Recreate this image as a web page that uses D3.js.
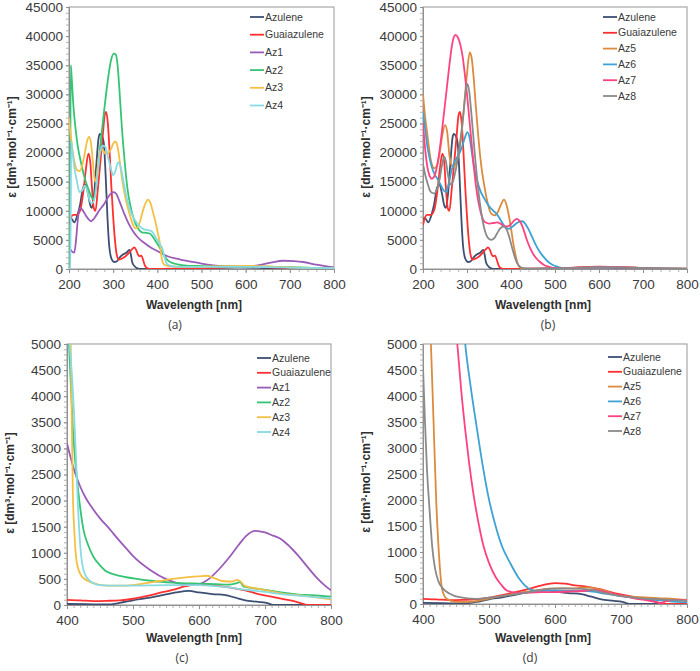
<!DOCTYPE html>
<html><head><meta charset="utf-8">
<script src="https://cdn.jsdelivr.net/npm/d3@7"></script>
<style>body{margin:0;background:#fff}</style>
</head><body>
<svg id="chart" width="700" height="671"></svg>
<script>
// ---------- DATA: UV-Vis 200-800 nm (panels a, b) ----------
const azuleneUV = [[200,8600],[205,8700],[212,8000],[218,9000],[225,11000],[232,14000],[237,14500],[243,13000],[248,11000],[252,10500],[257,13000],[262,18000],[267,22500],[270,23200],[275,22800],[279,21500],[283,16000],[287,9000],[291,4000],[296,1800],[302,1200],[308,1300],[315,2000],[322,2500],[330,2800],[337,3300],[340,2500],[343,1200],[348,500],[355,100],[362,0],[450,10],[585,270],[650,150],[712,0],[800,0]];
const guaiUV = [[200,7500],[204,8800],[210,9300],[218,9300],[225,10000],[232,13000],[238,17000],[244,19800],[248,18500],[252,14000],[256,10500],[260,10000],[265,13500],[270,17500],[276,22500],[281,26500],[284,27000],[288,25000],[292,20000],[296,14000],[300,9000],[304,5000],[308,2500],[313,1600],[320,1800],[328,2200],[336,2800],[343,3400],[348,3700],[352,3300],[356,2500],[360,2200],[364,2300],[368,1500],[372,600],[378,100],[385,0],[450,80],[520,180],[600,400],[680,220],[765,0],[800,0]];
const az1UV = [[200,3500],[204,3300],[208,2900],[212,2800],[216,5000],[220,8500],[225,10500],[230,10200],[238,9200],[245,8500],[250,8200],[258,8800],[268,10000],[280,11200],[290,12500],[300,13200],[306,13000],[315,11500],[325,9500],[335,7800],[345,6500],[355,5500],[370,4500],[385,3700],[400,3100],[420,2270],[450,1660],[476,1280],[500,930],[550,490],[600,400],[630,650],[660,1150],[685,1420],[710,1350],[730,1200],[760,750],[800,280]];
const az2UV = [[200,0],[202,0],[204,35000],[206,33000],[210,28000],[215,24000],[220,21000],[228,18000],[236,15500],[245,13500],[252,12200],[256,11900],[260,13500],[265,17000],[272,22000],[280,27500],[288,32500],[295,35800],[301,37000],[306,36800],[310,35000],[314,31000],[320,24000],[326,18500],[332,14000],[340,10500],[348,8300],[356,7000],[365,6300],[375,6200],[383,6100],[390,5500],[396,4800],[403,4000],[410,3000],[418,2000],[425,1400],[440,900],[460,640],[500,500],[550,430],[600,410],[650,390],[700,300],[750,200],[800,160]];
const az3UV = [[200,26000],[203,23500],[207,21000],[212,18500],[218,17000],[224,16800],[230,17800],[236,20000],[241,22000],[246,22700],[250,21500],[254,18500],[258,15500],[261,15000],[265,17500],[270,20300],[276,20500],[282,19800],[288,19900],[295,20600],[300,21500],[305,21900],[310,21000],[315,18500],[320,15500],[327,12500],[335,10000],[343,8000],[350,7000],[356,7200],[362,8500],[368,10200],[374,11400],[379,11900],[384,11400],[390,9800],[396,8000],[401,6200],[405,4800],[408,3000],[410,1800],[412,1250],[415,800],[423,540],[440,420],[460,370],[500,380],[540,460],[600,550],[615,550],[630,470],[650,450],[665,380],[700,290],[750,200],[800,110]];
const az4UV = [[200,0],[203,0],[205,22000],[208,20000],[212,17500],[218,15000],[224,13200],[230,13500],[236,14300],[241,13500],[246,12000],[250,11300],[255,11500],[260,13000],[265,16500],[270,19800],[276,21200],[282,21000],[288,19300],[294,17500],[300,16100],[305,16800],[311,18300],[316,17800],[322,15500],[330,12500],[338,10200],[346,8800],[355,7800],[365,7000],[375,6700],[385,6600],[392,6000],[398,5200],[404,4500],[408,4000],[411,3600],[414,2700],[416,2100],[420,1150],[425,670],[433,480],[450,380],[500,370],[550,380],[600,380],[650,320],[700,250],[750,180],[800,130]];
const az5UV = [[200,30000],[205,26000],[210,23000],[215,20000],[220,18000],[226,17300],[232,17800],[238,20000],[244,23000],[250,24700],[255,23500],[260,19500],[265,17800],[270,17500],[276,18500],[282,20000],[288,23500],[294,28500],[300,33500],[306,37200],[310,36500],[315,33000],[320,28000],[326,22500],[332,18000],[340,14000],[348,11000],[355,9500],[363,9200],[370,9800],[377,11000],[384,11900],[389,11200],[395,9200],[400,7000],[405,4500],[410,2500],[415,1000],[420,300],[428,50],[440,0],[500,100],[600,280],[650,300],[700,150],[800,80]];
const az6UV = [[200,27000],[205,24000],[210,21000],[215,19000],[220,17500],[226,16300],[232,15600],[240,14500],[246,13600],[252,13200],[258,14500],[265,17000],[272,18500],[280,19500],[288,20800],[295,22500],[301,23500],[306,22500],[311,20000],[316,17500],[322,15500],[330,13500],[340,12000],[350,10800],[360,10000],[370,9200],[378,8200],[386,7300],[394,6900],[402,7200],[410,7700],[418,8100],[426,8200],[432,7800],[440,6800],[448,5500],[456,4200],[465,3000],[475,2000],[485,1200],[495,700],[505,400],[515,200],[530,80],[560,150],[600,260],[650,250],[700,150],[800,30]];
const az7UV = [[200,25000],[205,20500],[210,17500],[215,16000],[220,15500],[225,15800],[230,17000],[236,19500],[242,23000],[248,27000],[254,31000],[260,35000],[266,38500],[271,40000],[274,40200],[279,39800],[285,38500],[290,36500],[295,33500],[300,30000],[305,26000],[310,22000],[315,18000],[320,14500],[326,11500],[332,9500],[338,8300],[345,7900],[352,7800],[360,7900],[368,8000],[376,7800],[384,7400],[392,7300],[400,7700],[407,8300],[413,8600],[419,8300],[425,7500],[431,6200],[437,4800],[444,3500],[451,2500],[458,1800],[466,1200],[475,700],[485,400],[495,200],[510,100],[560,220],[600,300],[650,300],[700,160],[760,40],[800,80]];
const az8UV = [[200,18000],[205,16200],[210,14800],[215,13600],[220,13100],[226,13000],[232,13800],[238,15500],[243,17800],[248,19300],[252,18500],[256,16500],[260,15000],[264,14500],[268,15000],[273,16500],[278,18500],[283,21000],[288,24000],[293,27500],[297,30500],[301,31800],[305,30500],[309,27500],[313,24000],[318,19500],[323,15500],[329,11500],[335,8500],[341,6500],[348,5300],[355,5000],[362,5300],[369,6200],[376,7000],[383,7300],[390,6800],[396,5500],[402,3800],[408,2200],[414,1000],[420,400],[428,150],[440,100],[500,120],[600,300],[650,280],[700,150],[800,60]];

// ---------- DATA: Vis 400-800 nm (panels c, d) ----------
const azuleneVis = [[400,20],[430,15],[460,10],[480,40],[500,90],[520,130],[545,190],[565,240],[585,270],[600,240],[620,210],[640,190],[655,140],[670,90],[690,60],[705,30],[712,0],[800,0]];
const guaiVis = [[400,100],[420,90],[440,75],[460,80],[480,90],[500,120],[520,170],[540,230],[560,290],[580,360],[600,400],[615,390],[630,360],[650,330],[670,280],[690,210],[710,160],[730,110],[745,70],[758,20],[765,0],[800,0]];
const az1Vis = [[400,3100],[405,2850],[410,2620],[415,2430],[420,2270],[428,2060],[436,1900],[450,1660],[465,1450],[476,1280],[490,1080],[501,925],[526,670],[551,490],[570,410],[585,385],[600,400],[615,500],[630,680],[645,900],[660,1150],[672,1330],[685,1420],[700,1390],[712,1330],[722,1280],[735,1150],[750,950],[765,720],[780,500],[790,380],[800,280]];
const az2Vis = [[398,6000],[403,5000],[409,3350],[418,2075],[425,1440],[432,1150],[440,925],[450,760],[460,640],[480,560],[501,510],[530,460],[560,430],[600,410],[625,400],[645,390],[657,420],[662,440],[668,350],[690,310],[710,270],[730,230],[750,200],[770,190],[790,170],[800,160]];
const az3Vis = [[400,7000],[405,5500],[407.5,3350],[409,2075],[411,1440],[415,800],[423,540],[440,420],[460,370],[480,370],[500,380],[520,420],[540,460],[560,500],[580,530],[600,550],[612,560],[622,520],[635,460],[650,450],[658,480],[663,450],[670,360],[690,310],[710,260],[730,210],[750,190],[775,150],[800,110]];
const az4Vis = [[398,6000],[404,5000],[408,4300],[411,3600],[414,2700],[416,2075],[420,1150],[425,670],[433,480],[450,380],[480,370],[500,370],[550,380],[600,380],[625,360],[650,330],[665,300],[680,280],[700,250],[725,210],[750,180],[775,150],[800,130]];
const az5Vis = [[405,6500],[412,5000],[416,3500],[420,2000],[425,800],[429,280],[436,100],[450,40],[470,40],[490,80],[510,130],[540,200],[570,260],[600,300],[625,300],[650,320],[670,270],[700,160],[730,130],[760,110],[780,100],[800,80]];
const az6Vis = [[455,6500],[464,5000],[472,4200],[482,3350],[490,2700],[499,2070],[510,1500],[520,1100],[532,790],[545,500],[555,350],[563,275],[575,250],[600,260],[625,250],[650,250],[675,200],[700,150],[725,110],[750,80],[775,50],[800,30]];
const az7Vis = [[445,6000],[452,5000],[458,4100],[464,3350],[470,2700],[477,2070],[485,1500],[492,1100],[500,790],[510,520],[518,380],[527,260],[540,220],[560,220],[580,230],[600,230],[620,240],[640,250],[660,270],[680,220],[700,160],[720,110],[740,70],[752,40],[760,20],[770,60],[785,80],[800,70]];
const az8Vis = [[400,4560],[403,3500],[406,2600],[410,1800],[414,1100],[418,700],[423,450],[430,300],[440,200],[455,130],[480,100],[500,120],[530,170],[560,230],[590,290],[610,300],[640,290],[660,260],[680,200],[700,150],[730,110],[760,90],[800,60]];

// ---------- CATEGORIES / TICKS ----------
const seriesAC = ["Azulene","Guaiazulene","Az1","Az2","Az3","Az4"];
const seriesBD = ["Azulene","Guaiazulene","Az5","Az6","Az7","Az8"];
const uvTicksX = [200,300,400,500,600,700,800];
const visTicksX = [400,500,600,700,800];
const uvTicksY = [0,5000,10000,15000,20000,25000,30000,35000,40000,45000];
const visTicksY = [0,500,1000,1500,2000,2500,3000,3500,4000,4500,5000];
const panelLabels = ["(a)","(b)","(c)","(d)"];

const uvData = {Azulene:azuleneUV, Guaiazulene:guaiUV, Az1:az1UV, Az2:az2UV, Az3:az3UV, Az4:az4UV, Az5:az5UV, Az6:az6UV, Az7:az7UV, Az8:az8UV};
const visData = {Azulene:azuleneVis, Guaiazulene:guaiVis, Az1:az1Vis, Az2:az2Vis, Az3:az3Vis, Az4:az4Vis, Az5:az5Vis, Az6:az6Vis, Az7:az7Vis, Az8:az8Vis};

const colors = {Azulene:"#3d4f72", Guaiazulene:"#ff3030", Az1:"#9b5bb8", Az2:"#35c474", Az3:"#f3c043", Az4:"#88dbe2", Az5:"#dc8b3e", Az6:"#3ea2d5", Az7:"#ff4282", Az8:"#8a8a8a"};

const layout = [
  {L:69, R:334, T:7, B:269, data:uvData, names:seriesAC, xd:[200,800], yd:[0,45000], xt:uvTicksX, yt:uvTicksY, xm:20, ym:1000, leg:[250,17,17.7], lab:[175,329], xtitle:[194,309], ytitle:[12,147]},
  {L:423, R:687, T:7, B:269, data:uvData, names:seriesBD, xd:[200,800], yd:[0,45000], xt:uvTicksX, yt:uvTicksY, xm:20, ym:1000, leg:[603,17,15.8], lab:[548,329], xtitle:[543,309], ytitle:[366,147]},
  {L:67, R:331, T:344, B:605, data:visData, names:seriesAC, xd:[400,800], yd:[0,5000], xt:visTicksX, yt:visTicksY, xm:10, ym:100, leg:[257,358,14.8], lab:[182,662], xtitle:[194,642], ytitle:[10,483]},
  {L:423, R:687, T:344, B:604, data:visData, names:seriesBD, xd:[400,800], yd:[0,5000], xt:visTicksX, yt:visTicksY, xm:10, ym:100, leg:[608,357,14.8], lab:[530,662], xtitle:[543,642], ytitle:[366,482]}
];

const svg = d3.select("#chart");
const font = "'Liberation Sans', Arial, sans-serif";
const txt = "#3a3a3a";

layout.forEach((p, i) => {
  const x = d3.scaleLinear().domain(p.xd).range([p.L, p.R]);
  const y = d3.scaleLinear().domain(p.yd).range([p.B, p.T]);
  const g = svg.append("g");
  const clipId = "clip" + i;
  svg.append("clipPath").attr("id", clipId).append("rect")
    .attr("x", p.L).attr("y", p.T).attr("width", p.R - p.L).attr("height", p.B - p.T);

  // frame
  g.append("rect").attr("x", p.L).attr("y", p.T).attr("width", p.R - p.L).attr("height", p.B - p.T)
    .attr("fill", "none").attr("stroke", "#a8a8a8").attr("stroke-width", 1.2);

  // minor ticks
  const xMinor = d3.range(p.xd[0], p.xd[1] + 0.001, p.xm);
  const yMinor = d3.range(p.yd[0], p.yd[1] + 0.001, p.ym);
  const ax = g.append("g").attr("transform", `translate(0,${p.B})`)
    .call(d3.axisBottom(x).tickValues(xMinor).tickSize(3).tickFormat(""));
  ax.select(".domain").remove();
  ax.selectAll("line").attr("stroke", "#b0b0b0");
  const ay = g.append("g").attr("transform", `translate(${p.L},0)`)
    .call(d3.axisLeft(y).tickValues(yMinor).tickSize(3).tickFormat(""));
  ay.select(".domain").remove();
  ay.selectAll("line").attr("stroke", "#b0b0b0");

  // major axes
  const xAxis = g.append("g").attr("transform", `translate(0,${p.B})`)
    .call(d3.axisBottom(x).tickValues(p.xt).tickSize(4).tickPadding(6).tickFormat(d3.format("d")));
  xAxis.select(".domain").attr("stroke", "#909090");
  xAxis.selectAll("line").attr("stroke", "#909090");
  xAxis.selectAll("text").attr("font-family", font).attr("font-size", "13.5px").attr("fill", txt);

  const yAxis = g.append("g").attr("transform", `translate(${p.L},0)`)
    .call(d3.axisLeft(y).tickValues(p.yt).tickSize(3).tickPadding(3).tickFormat(d3.format("d")));
  yAxis.select(".domain").attr("stroke", "#909090");
  yAxis.selectAll("line").attr("stroke", "#909090");
  yAxis.selectAll("text").attr("font-family", font).attr("font-size", "13.5px").attr("fill", txt);

  // curves
  const line = d3.line().x(d => x(d[0])).y(d => y(d[1])).curve(d3.curveMonotoneX);
  const cg = g.append("g").attr("clip-path", `url(#${clipId})`);
  p.names.forEach(n => {
    cg.append("path").datum(p.data[n]).attr("d", line)
      .attr("fill", "none").attr("stroke", colors[n]).attr("stroke-width", 1.8)
      .attr("stroke-linejoin", "round");
  });

  // legend
  const lg = g.append("g");
  p.names.forEach((n, k) => {
    const yy = p.leg[1] + k * p.leg[2];
    lg.append("line").attr("x1", p.leg[0]).attr("x2", p.leg[0] + 14).attr("y1", yy).attr("y2", yy)
      .attr("stroke", colors[n]).attr("stroke-width", 1.8);
    lg.append("text").attr("x", p.leg[0] + 15).attr("y", yy).attr("dy", "0.35em")
      .attr("font-family", font).attr("font-size", "10.5px").attr("fill", txt).text(n);
  });

  // axis titles
  g.append("text").attr("x", p.xtitle[0]).attr("y", p.xtitle[1]).attr("text-anchor", "middle")
    .attr("font-family", font).attr("font-size", "12px").attr("font-weight", "bold").attr("fill", "#2e2e2e")
    .text("Wavelength [nm]");
  g.append("text").attr("transform", `translate(${p.ytitle[0]},${p.ytitle[1]}) rotate(-90)`)
    .attr("text-anchor", "middle").attr("dy", "0.35em")
    .attr("font-family", font).attr("font-size", "12px").attr("font-weight", "bold").attr("fill", "#2e2e2e")
    .text("ε [dm³·mol⁻¹·cm⁻¹]");

  // panel label
  g.append("text").attr("x", p.lab[0]).attr("y", p.lab[1]).attr("text-anchor", "middle")
    .attr("font-family", "'Open Sans', 'Liberation Sans', sans-serif").attr("font-size", "12px").attr("fill", txt)
    .text(panelLabels[i]);
});
</script>
</body></html>
